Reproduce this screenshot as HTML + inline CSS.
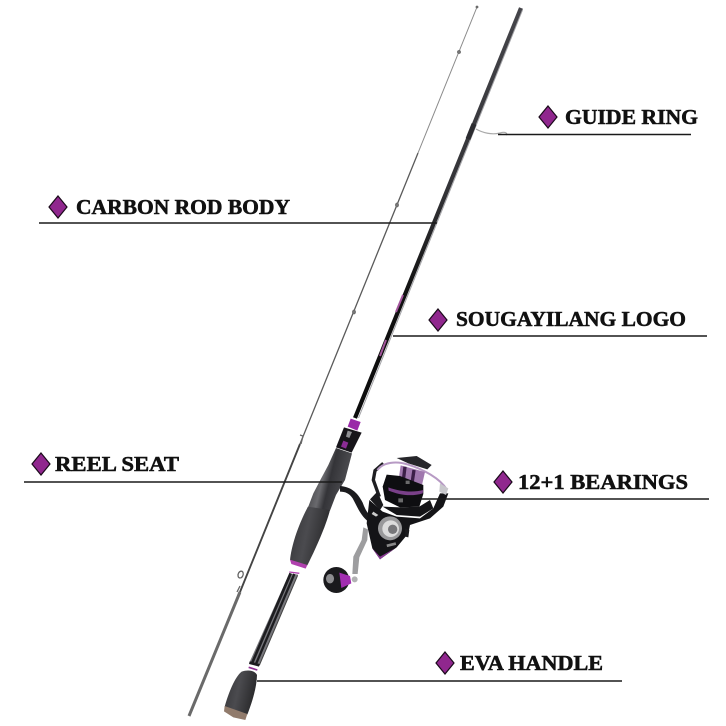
<!DOCTYPE html>
<html><head><meta charset="utf-8"><style>
html,body{margin:0;padding:0;background:#fff;width:726px;height:726px;overflow:hidden}
svg{display:block}
text{font-family:"Liberation Serif",serif;font-weight:bold;font-size:21px;fill:#111;stroke:#111;stroke-width:.55px}
.d{fill:#90278e;stroke:#1a0a1a;stroke-width:1.2}
.l{stroke:#1a1a1a;stroke-width:1.6;fill:none}
</style></head><body>
<svg width="726" height="726" viewBox="0 0 726 726" xmlns="http://www.w3.org/2000/svg">
<defs>
<linearGradient id="g1" x1="0" y1="0" x2="1" y2=".35"><stop offset="0" stop-color="#2a2a2d"/><stop offset=".45" stop-color="#6a6a6e"/><stop offset=".6" stop-color="#343438"/><stop offset="1" stop-color="#505054"/></linearGradient>
<linearGradient id="g2" x1="0" y1="0" x2="1" y2=".3"><stop offset="0" stop-color="#333336"/><stop offset=".5" stop-color="#4b4b4f"/><stop offset="1" stop-color="#2a2a2c"/></linearGradient>
<linearGradient id="g3" gradientUnits="userSpaceOnUse" x1="522" y1="7" x2="355" y2="418"><stop offset="0" stop-color="#45454a"/><stop offset=".45" stop-color="#333337"/><stop offset=".7" stop-color="#111"/><stop offset="1" stop-color="#0c0c0c"/></linearGradient>
</defs>
<rect width="726" height="726" fill="#fff"/>
<!-- left rod -->
<path d="M477 7L418 153" stroke="#8a8a8a" stroke-width="1" fill="none"/>
<path d="M418 153L300 444" stroke="#5a5a5a" stroke-width="1.300" fill="none"/>
<path d="M300 444L240 592" stroke="#444" stroke-width="1.900" fill="none"/>
<path d="M240 592L189 716" stroke="#6a6a6a" stroke-width="3" fill="none"/>
<g fill="#777" stroke="#666" stroke-width=".8">
<circle cx="477" cy="7" r="1"/><circle cx="459" cy="52" r="1.500"/><ellipse cx="397" cy="205" rx="1.500" ry="2"/><ellipse cx="354" cy="312" rx="1.500" ry="2"/><path d="M300 435l3 1-2 8" fill="none" stroke-width="1.300"/><path d="M240 578a2.500 3.500 20 1 1 .1 0M240 586l-3 6" fill="none" stroke-width="1.300"/>
</g>
<!-- right rod upper -->
<path d="M521 8L355 418" stroke="url(#g3)" stroke-width="4.200" fill="none"/>
<path d="M522.500 10L358.500 418" stroke="#a2a2a6" stroke-width="1" fill="none"/>
<path d="M474 124L468 139" stroke="#2c2c30" stroke-width="5" fill="none"/>
<path d="M403 295L396 312" stroke="#a2559c" stroke-width="2" fill="none"/>
<path d="M386 340L380 356" stroke="#a2559c" stroke-width="2" fill="none"/>
<path d="M476 129C483 133 492 135 500 133C506 131 508 134 506 135" stroke="#aaa" stroke-width="1.200" fill="none"/>
<!-- handle seat -->
<g transform="translate(280,410) scale(.3333)">
<path d="M212 26L242 36L232 62L203 50Z" fill="#9a2aa8"/>
<path d="M192 52L245 68L215 128L168 112Z" fill="#17151a"/>
<path d="M203 62L216 66L208 84L198 80Z" fill="#8f8f93"/>
<path d="M190 92L205 98L198 116L183 110Z" fill="#8a2c94"/>
<path d="M168 114L216 130L205 172L195 210L168 255L150 302L84 292L100 250L120 212L145 165Z" fill="url(#g1)"/>
<path d="M84 290L150 300C140 340 115 400 82 466L30 450C34 410 52 350 84 290Z" fill="url(#g2)"/>
<path d="M30 449L82 465L77 476L34 462Z" fill="#b040ae"/>
</g>
<!-- reel -->
<g transform="translate(340,450) scale(.3333)">
<path d="M0 108C30 110 52 125 68 158C75 178 85 195 100 205L85 215C60 195 52 170 38 145C28 130 15 125 0 125Z" fill="#1b1b1e"/>
<path d="M88 150L128 185L170 200L240 205L280 175L300 130L325 130L310 170L270 205L210 225L205 250L170 292L120 328L97 295L80 220Z" fill="#141417"/>
<path d="M100 185L115 195L108 200L95 192Z" fill="#ccc"/>
<path d="M97 295L120 328L165 295L120 320Z" fill="#8a3a96"/>
<path d="M118 140L100 90L105 62L130 40" fill="none" stroke="#1e1e21" stroke-width="10"/>
<path d="M90 148L112 125L130 165L120 180Z" fill="#1a1a1d"/>
<path d="M112 60C130 36 170 32 205 44C250 58 300 85 320 118" fill="none" stroke="#b79ac4" stroke-width="6"/>
<path d="M300 100L325 115L318 135L298 125Z" fill="#c8c8cc"/>
<path d="M170 24L230 18L275 45L262 58L205 40Z" fill="#26262a"/>
<path d="M182 46L255 66L246 105L176 88Z" fill="#a078ae"/>
<path d="M195 50L190 92M222 60L216 100" stroke="#3c1f48" stroke-width="10" fill="none"/>
<path d="M140 74L180 78L250 105L250 132L238 170L180 172L135 150L128 110Z" fill="#0e0e11"/>
<path d="M145 112C180 125 220 128 250 120L248 130C215 140 180 136 146 122Z" fill="#7a4089"/>
<path d="M197 92h12v10h-12zM175 145h14v12h-14z" fill="#aaa" opacity=".6"/>
<path d="M128 170L180 172L238 170L270 150L280 175L240 200L170 195Z" fill="#141417"/>
<circle cx="150" cy="235" r="36" fill="#99999b"/>
<circle cx="152" cy="236" r="25" fill="#dcdcdc"/>
<circle cx="158" cy="238" r="14" fill="#77777a"/>
<rect x="140" y="280" width="28" height="8" fill="#888" transform="rotate(-14 154 284)"/>
<path d="M195 235L208 240L205 262L196 260Z" fill="#1a1a1d"/>
<path d="M70 232L84 238L82 270L58 322L53 372L37 372L40 320L65 270Z" fill="#9d9d9f"/>
<path d="M-50 390A39 39 0 1 0 28 390A39 39 0 1 0 -50 390Z" fill="#1a1a1d"/>
<path d="M-30 372a12 14 0 1 0 .1 0Z" fill="#8d8d90"/>
<path d="M-2 368L30 378L34 400L4 414Z" fill="#a12db0"/>
<circle cx="44" cy="388" r="9" fill="#b2b2b4"/>
</g>
<!-- lower rod & butt -->
<g transform="translate(170,560) scale(.3333)">
<path d="M358 40L384 44L268 316L238 308Z" fill="#77777c"/>
<path d="M362 40L246 310" stroke="#1d1d20" stroke-width="8" fill="none"/>
<path d="M373 42L258 312" stroke="#1d1d20" stroke-width="7" fill="none"/>
<path d="M383 46L268 316" stroke="#444" stroke-width="3" fill="none"/>
<path d="M358 36L388 40" stroke="#b040ae" stroke-width="4" fill="none"/>
<path d="M238 308L268 316" stroke="#1d1d20" stroke-width="8" fill="none"/>
</g>
<g transform="translate(220,640) scale(.3333)">
<path d="M86 82L112 90" stroke="#8f2f92" stroke-width="5" fill="none"/>
<path d="M65 95C85 88 105 92 111 105C110 145 95 190 82 224L14 200C25 160 45 110 65 95Z" fill="url(#g2)"/>
<path d="M14 198L82 222L76 240L40 232L12 214Z" fill="#917b6c"/>
</g>
<!-- leader lines -->
<path class="l" d="M498 134.500H691"/>
<path class="l" d="M39 223H437"/>
<path class="l" d="M393 336H707"/>
<path class="l" d="M24 482H342"/>
<path class="l" d="M420 499H709"/>
<path class="l" d="M257 681H622"/>
<!-- diamonds -->
<path class="d" d="M548 106L557 117L548 128L539 117Z"/>
<path class="d" d="M58 196L67 207L58 218L49 207Z"/>
<path class="d" d="M438 309L447 320L438 331L429 320Z"/>
<path class="d" d="M41 453L50 464L41 475L32 464Z"/>
<path class="d" d="M503 471L512 482L503 493L494 482Z"/>
<path class="d" d="M445 652L454 663L445 674L436 663Z"/>
<!-- labels -->
<text x="565" y="124" textLength="133" lengthAdjust="spacingAndGlyphs">GUIDE RING</text>
<text x="76" y="214" textLength="214" lengthAdjust="spacingAndGlyphs">CARBON ROD BODY</text>
<text x="456" y="326" textLength="230" lengthAdjust="spacingAndGlyphs">SOUGAYILANG LOGO</text>
<text x="55" y="471" textLength="124" lengthAdjust="spacingAndGlyphs">REEL SEAT</text>
<text x="518" y="489" textLength="170" lengthAdjust="spacingAndGlyphs">12+1 BEARINGS</text>
<text x="460" y="670" textLength="143" lengthAdjust="spacingAndGlyphs">EVA HANDLE</text>
</svg>
</body></html>
